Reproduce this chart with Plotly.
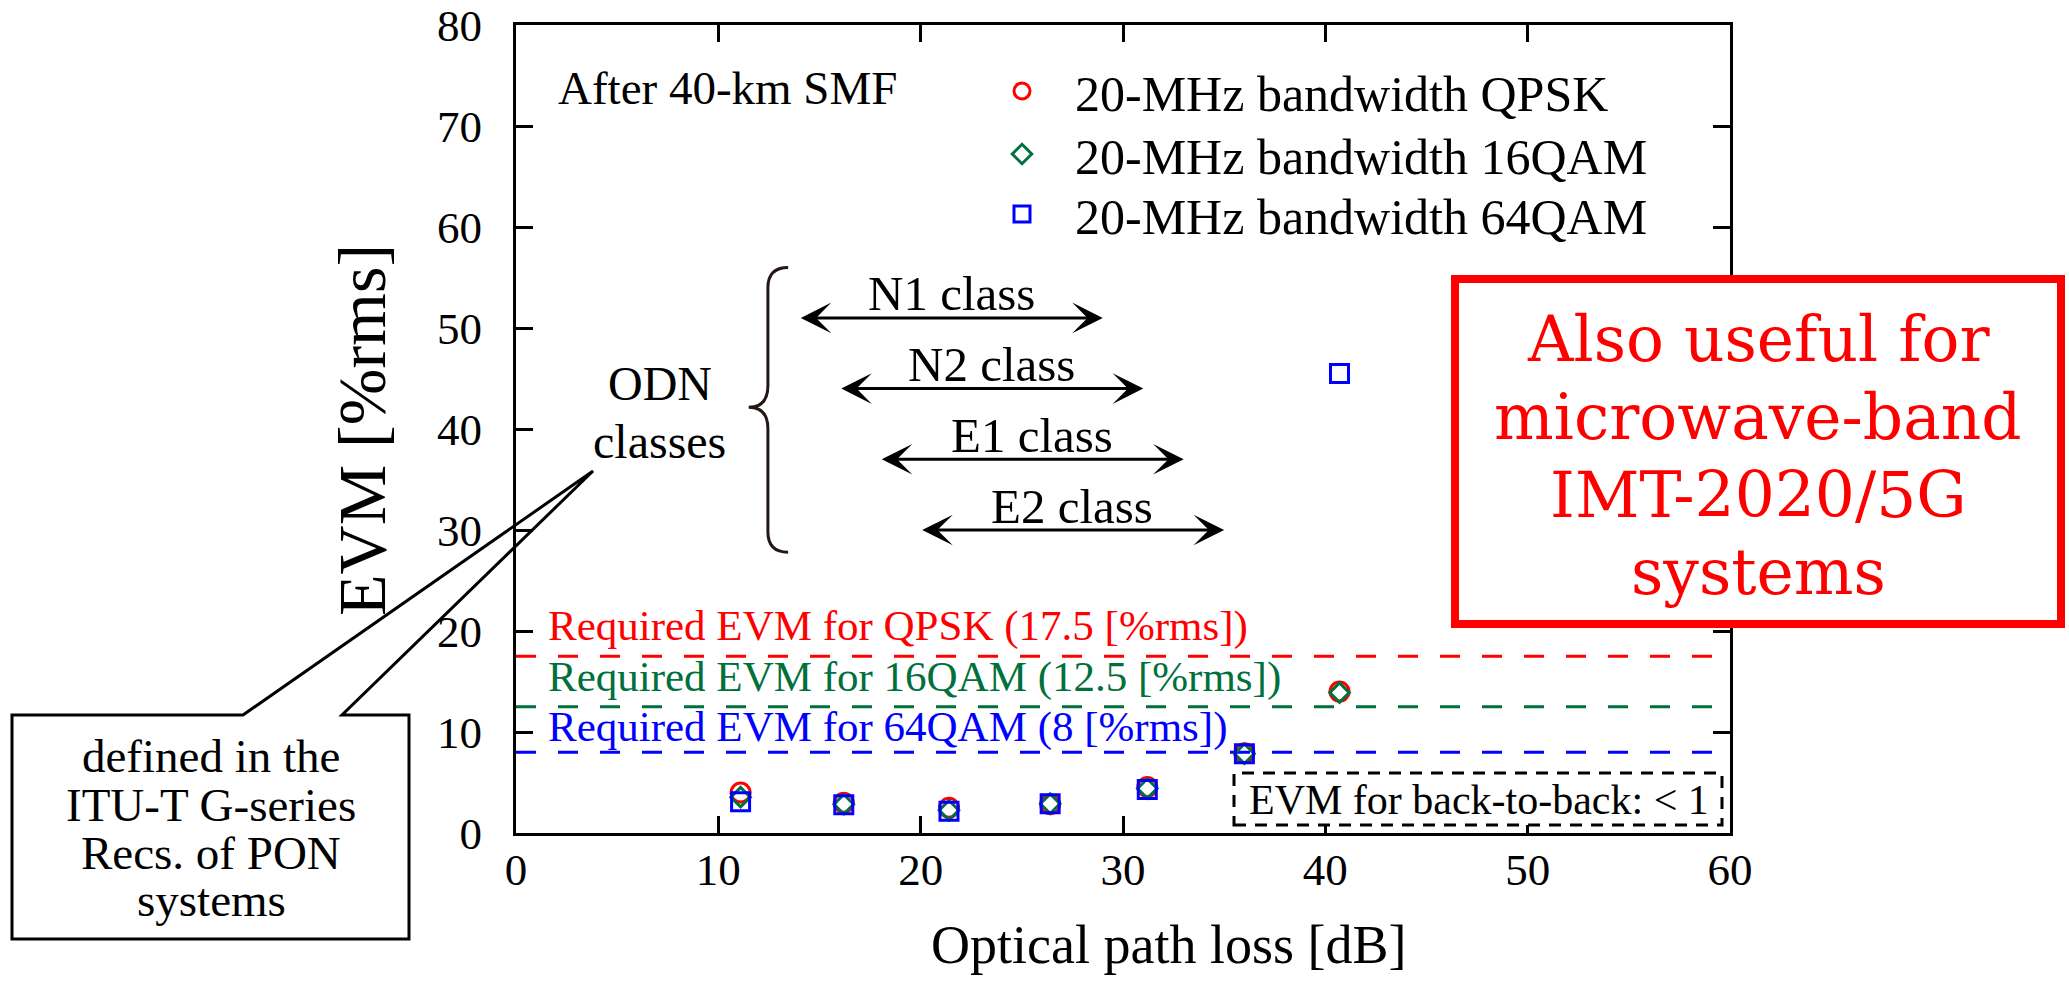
import plotly.graph_objects as go

# ---- measured EVM after 40-km SMF (20-MHz bandwidth signals) ----
loss_db = [11.1, 16.2, 21.4, 26.4, 31.2, 36.0, 40.7]
evm_qpsk = [4.0, 3.0, 2.5, 2.85, 4.55, 7.9, 14.0]
evm_16qam = [3.55, 2.85, 2.25, 2.9, 4.4, 7.85, 13.9]
evm_64qam = [3.1, 2.8, 2.15, 2.9, 4.3, 7.85, 45.5]

series_names = ["20-MHz bandwidth QPSK", "20-MHz bandwidth 16QAM", "20-MHz bandwidth 64QAM"]

# ---- required EVM thresholds ----
required_evm = [17.5, 12.5, 8.0]
required_labels = [
    "Required EVM for QPSK (17.5 [%rms])",
    "Required EVM for 16QAM (12.5 [%rms])",
    "Required EVM for 64QAM (8 [%rms])",
]

# ---- ODN loss classes (ITU-T G-series) ----
odn_classes = ["N1 class", "N2 class", "E1 class", "E2 class"]
odn_min_loss = [14, 16, 18, 20]
odn_max_loss = [29, 31, 33, 35]
odn_row = [51, 44, 37, 30]

x_ticks = [0, 10, 20, 30, 40, 50, 60]
y_ticks = [0, 10, 20, 30, 40, 50, 60, 70, 80]

RED, GREEN, BLUE = "#ff0000", "#00703c", "#0000ff"
colors = [RED, GREEN, BLUE]
SERIF = "Liberation Serif"

W, H = 2069, 989
L, R, T, B = 516, 339, 25, 156
PW, PH = W - L - R, H - T - B


def xp(px):
    return (px - L) / PW


def yp(py):
    return (H - B - py) / PH


fig = go.Figure()

# threshold lines
for val, col in zip(required_evm, colors):
    fig.add_trace(go.Scatter(
        x=[x_ticks[0], x_ticks[-1]], y=[val, val], mode="lines",
        line=dict(color=col, width=3, dash="20px,22px"),
        showlegend=False, hoverinfo="skip"))

# measured points, each series with its own legend row
symbols = ["circle-open", "diamond-open", "square-open"]
sizes = [19, 15, 18]
legend_ids = ["legend", "legend2", "legend3"]
for name, ys, col, sym, sz, lg in zip(series_names, [evm_qpsk, evm_16qam, evm_64qam],
                                      colors, symbols, sizes, legend_ids):
    fig.add_trace(go.Scatter(
        x=loss_db, y=ys, mode="markers", name=name, legend=lg,
        marker=dict(symbol=sym, size=sz, color=col, line=dict(color=col, width=3))))

annotations = []
shapes = []


def note(x, y, text, size, color="black", family=SERIF, xref="paper", yref="paper", **kw):
    d = dict(x=x, y=y, xref=xref, yref=yref, text=text, showarrow=False,
             xanchor=kw.pop("xanchor", "center"), yanchor=kw.pop("yanchor", "middle"),
             font=dict(family=family, size=size, color=color))
    d.update(kw)
    annotations.append(d)


# threshold labels
for val, txt, col, shift in zip(required_evm, required_labels, colors, [30, 30, 25]):
    note(1.5, val, txt, 43, col, xref="x", yref="y", xanchor="left", yshift=shift)

# ODN class arrows and labels
for name, lo, hi, yrow in zip(odn_classes, odn_min_loss, odn_max_loss, odn_row):
    annotations.append(dict(x=hi, y=yrow, ax=lo, ay=yrow, xref="x", yref="y", axref="x", ayref="y",
                            text="", showarrow=True, arrowhead=3, startarrowhead=3,
                            arrowside="end+start", arrowwidth=3, arrowsize=1.7, startarrowsize=1.7,
                            arrowcolor="black", standoff=0, startstandoff=0))
    note((lo + hi) / 2, yrow, name, 49, xref="x", yref="y", yshift=24)

# curly brace grouping the classes
brace = ("M 13.45,56.0 Q 12.45,56.0 12.45,54.0 L 12.45,44.3 Q 12.45,42.15 11.5,42.15 "
         "Q 12.45,42.15 12.45,40.0 L 12.45,29.8 Q 12.45,27.8 13.45,27.8")
shapes.append(dict(type="path", path=brace, xref="x", yref="y",
                   line=dict(color="#231815", width=3)))

note(7.1, 44.5, "ODN", 48, xref="x", yref="y")
note(7.1, 38.8, "classes", 48, xref="x", yref="y")
note(2.0, 73.8, "After 40-km SMF", 47, xref="x", yref="y", xanchor="left")

# back-to-back note
shapes.append(dict(type="rect", xref="paper", yref="paper",
                   x0=xp(1234), x1=xp(1722), y0=yp(825), y1=yp(773),
                   line=dict(color="black", width=3, dash="12px,9px"),
                   fillcolor="white", layer="above"))
note(xp(1479), yp(800), "EVM for back-to-back: &lt; 1", 42)

# callout box with pointer
pts = [(12, 715), (243, 715), (593, 471), (342, 715), (409, 715), (409, 939), (12, 939)]
callout = "M " + " L ".join(f"{xp(a):.5f},{yp(b):.5f}" for a, b in pts) + " Z"
shapes.append(dict(type="path", path=callout, xref="paper", yref="paper",
                   line=dict(color="black", width=3), fillcolor="rgba(0,0,0,0)", layer="above"))
for line_txt, cy in zip(["defined in the", "ITU-T G-series", "Recs. of PON", "systems"],
                        [756, 805, 853, 900]):
    note(xp(211), yp(cy), line_txt, 47)

# highlight box
shapes.append(dict(type="rect", xref="paper", yref="paper",
                   x0=xp(1455), x1=xp(2061), y0=yp(624), y1=yp(279),
                   line=dict(color=RED, width=8), fillcolor="white", layer="above"))
for line_txt, cy in zip(["Also useful for", "microwave-band", "IMT-2020/5G", "systems"],
                        [339, 417, 495, 572]):
    note(xp(1758), yp(cy), line_txt, 63, RED, family="DejaVu Serif")

# axis titles
note(xp(1168), yp(945), "Optical path loss [dB]", 54)
note(xp(362), yp(430), "EVM [%rms]", 68, textangle=-90)

axis_common = dict(showline=True, linecolor="black", linewidth=3, mirror="ticks",
                   ticks="inside", ticklen=17, tickwidth=3, tickcolor="black",
                   showgrid=False, zeroline=False,
                   tickfont=dict(family=SERIF, size=45, color="black"))

legend_common = dict(xanchor="left", yanchor="top",
                     font=dict(family=SERIF, size=50, color="black"),
                     itemwidth=96, bgcolor="rgba(0,0,0,0)", borderwidth=0)

fig.update_layout(
    width=W, height=H,
    margin=dict(l=L, r=R, t=T, b=B, autoexpand=False),
    paper_bgcolor="white", plot_bgcolor="white",
    xaxis=dict(range=[0, 60], tickvals=x_ticks, ticklabelstandoff=-5, **axis_common),
    yaxis=dict(range=[0, 80], tickvals=y_ticks, ticklabelstandoff=22, **axis_common),
    legend=dict(x=xp(969), y=yp(52), **legend_common),
    legend2=dict(x=xp(969), y=yp(115), **legend_common),
    legend3=dict(x=xp(969), y=yp(175), **legend_common),
    annotations=annotations,
    shapes=shapes,
    showlegend=True,
)

fig.write_html("out.html")
